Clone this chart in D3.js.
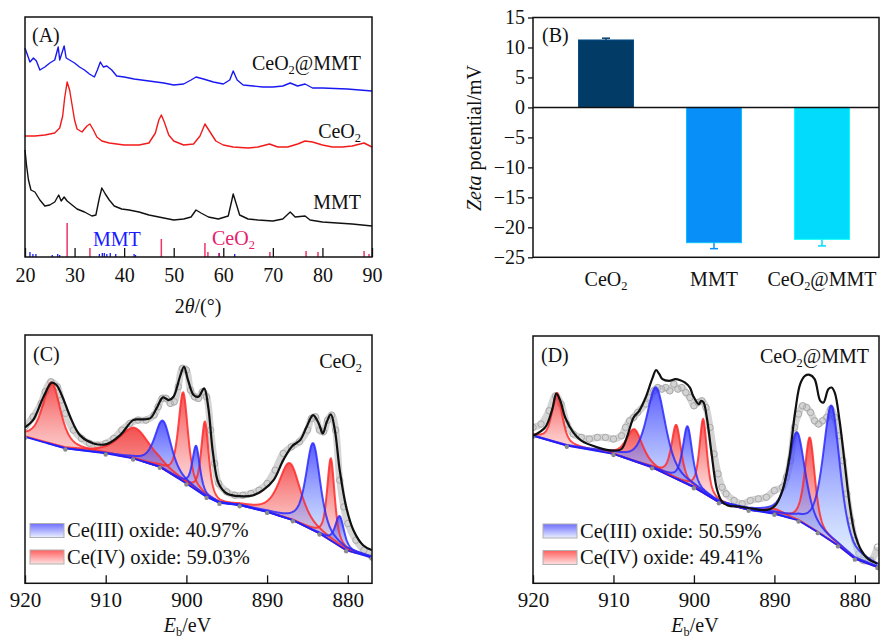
<!DOCTYPE html>
<html>
<head>
<meta charset="utf-8">
<script src="https://cdn.jsdelivr.net/npm/d3@7"></script>
<style>
  body { margin: 0; background: #fff; }
  svg, svg text { font-family: "Liberation Serif", "Times New Roman", serif; }
</style>
</head>
<body>
<svg id="fig" width="880" height="640"></svg>
<script>
// ---------------- data ----------------
// (A) XRD patterns, [2theta, intensity (a.u., stacked offsets included)]
const xrdComposite = [[20,209],[20.5,202],[21,195],[21.7,199],[22.3,196],[23,187],[24,190],[25,194],[26,197],[26.7,210],[27,197],[27.9,211],[28.3,199],[29,197],[30,194],[31,190],[32,187],[33,183],[34,180],[34.6,187],[35.2,195],[35.8,190],[36.5,191],[37.5,187],[38.5,181],[40,180],[42,178],[45,176],[48,174],[50,172],[52,173],[53.5,177],[54.5,180],[56,178],[58,175],[60,173],[61.3,177],[62,186],[62.8,177],[64,172],[66,171],[68,170],[70,170],[72,171],[73.5,174],[75,171],[76.5,173],[78,169],[80,169],[85,168],[90,166]];
const xrdCeo2 = [[20,121],[22,121],[24,122],[26,124],[27,129],[27.6,141],[28,159],[28.5,175],[29,167],[29.5,152],[30,137],[30.5,128],[31.5,125],[32.5,131],[33.1,133],[33.8,127],[34.5,120],[35.5,116],[37,114],[40,112],[43,112],[45,114],[46.3,124],[47,137],[47.5,142],[48.1,135],[49,122],[50,116],[52,112],[54,113],[55.3,121],[56.3,133],[57.2,126],[58.5,116],[60,112],[62,110],[65,109],[67,110],[69.3,113],[71,110],[73,110],[75,113],[76.5,116],[78,115],[80,112],[82,110],[84,110],[86,111],[88.4,114],[90,110]];
const xrdMmt = [[20,107],[20.3,92],[20.7,77],[21.2,67],[22,65],[23,57],[24,51],[25,52],[26,55],[26.8,62],[27.3,56],[27.9,60],[28.5,56],[29.5,52],[30.5,48],[32,45],[33.5,41],[34.3,42],[35,59],[35.5,69],[36.2,63],[37,57],[38,51],[39.5,48],[41,47],[43,45],[45,42],[48,39],[50,37],[52,38],[53.5,40],[54.5,47],[55.5,44],[57,40],[59,38],[61,41],[61.6,54],[62,63],[62.5,55],[63.3,42],[65,38],[67,37],[70,36],[72,38],[73.5,45],[74.5,40],[76.5,41],[77.5,37],[80,35],[83,34],[86,33],[90,31]];
// standard reference lines [2theta, relative height]
const refCeo2 = [[28.5,34],[33.1,9],[47.5,18],[56.3,14],[56.9,5],[59.1,4],[69.4,5],[76.7,6],[79.1,5],[88.4,6],[89.4,3]];
const refMmt = [[21.0,5],[21.6,3],[22.2,3],[25.5,2],[26.6,3],[27.0,2],[35.0,3],[35.6,4],[36.0,4],[36.5,3],[37.2,4],[38.3,3],[42.0,3],[42.3,2],[59.2,4],[62.3,3]];
const xrdTicks = [20, 30, 40, 50, 60, 70, 80, 90];

// (B) zeta potential
const zetaCats = ["CeO_2", "MMT", "CeO_2@MMT"];
const zetaVals = [11.25, -22.56, -22.0];
const zetaErr = [0.3, 1.0, 1.1];
const zetaTicks = [15, 10, 5, 0, -5, -10, -15, -20, -25];
const zetaColors = ["#033b67", "#0890f8", "#03dbfd"];

// (C)/(D) Ce 3d XPS, [binding energy eV, counts a.u.]
const xpsTicks = [920, 910, 900, 890, 880];
const bgC = [[920,146.3],[915,134.7],[910,129.7],[906.6,124.7],[903.3,116.3],[900,99.7],[897.5,86.3],[895.9,80.3],[893.4,78],[890,71.3],[886.8,63],[883.5,49.7],[880.2,33],[877,25.7]];
const envC = [[920,155.7],[919,163],[917.7,186.3],[916.7,200.3],[916.1,198],[915.2,183],[914.4,166.3],[913.2,148],[911.5,139.7],[909.9,139],[908.2,148],[906.6,163],[905.7,163.7],[904.5,164.7],[903.7,174.7],[902.9,185.7],[902.2,183],[901.6,186.3],[900.8,206.3],[900.3,216.3],[899.8,203],[899.1,188],[898.5,186.3],[897.8,194.7],[897.3,176.3],[896.7,129.7],[896,99.7],[895,89.7],[893.4,87],[891.7,88],[890.5,93],[889.2,103],[888,123],[886.9,137],[885.9,143],[885.1,156.3],[884.3,168],[883.6,159.7],[883.1,149.7],[882.6,161.3],[882.1,168.7],[881.6,153],[881,113],[880.2,76.3],[879.3,53],[878.1,38],[877,33]];
const rawC = [[920,156.3],[919,166.3],[918,179.7],[917.5,191.3],[916.8,201.3],[916,196.3],[915.5,183],[915,169.7],[914,153],[913,144.7],[912,139.7],[911,138],[910,139.7],[909,144.7],[908,153],[907,159.7],[906,163],[905,163],[904,168],[903.5,176.3],[903,184.7],[902.5,184.7],[902,179.7],[901.5,181.3],[901,196.3],[900.5,214.7],[900,213],[899.5,193],[899,186.3],[898.5,184.7],[898,191.3],[897.5,186.3],[897,153],[896.5,119.7],[896,99.7],[895,91.3],[894,88],[893,88],[892,89.7],[891,93],[890,99.7],[889,113],[888,129.7],[887,136.3],[886,141.3],[885,153],[884.5,164.7],[884,166.3],[883.5,153],[883,151.3],[882.5,163],[882,168],[881.5,153],[881,103],[880.5,76.3],[880,59.7],[879,43],[878,33],[877,26.3]];
// fitted components [centre eV, height above background, FWHM eV]
const ce3C = [[902.9,48,2.4],[898.8,44,1.1],[884.3,87,2.1],[881.0,30,1.3]];
const ce4C = [[916.7,62,2.6],[906.4,31,4.6],[900.4,89,1.4],[897.7,74,1.1],[887.2,56,3.2],[882.1,82,1.1]];

const bgD = [[920,148],[915.8,138],[910,129.7],[905.2,116.3],[900,96.3],[896.9,81.3],[893.2,73.7],[890,69.7],[887,63],[884.6,51.3],[882.1,38],[880,24.7],[877.2,16.3]];
const envD = [[920,148],[918.5,156.3],[917.6,174.7],[917.1,190.3],[916.6,183],[916,166.3],[915,151.3],[914,143],[912,136.3],[910,133],[909,134.7],[908.2,149.7],[907.5,166.3],[906.8,173],[906,186.3],[905.2,204.7],[904.7,213.7],[904.3,209.7],[903.9,204.7],[903.1,203],[902.3,204.7],[901.7,203.7],[901.1,201.3],[900.5,196.3],[900.1,188],[899.4,179.7],[899.1,183],[898.8,181.3],[898.4,166.3],[897.8,129.7],[897.2,96.3],[896.6,83],[895.8,78],[894.4,77],[892.8,75],[891.5,73.5],[890.7,74],[889.9,78],[889,93],[888.2,123],[887.4,173],[886.8,199.7],[886.2,208],[885.6,209],[885,204.7],[884.3,183],[883.9,181.3],[883.3,194.7],[882.9,196.3],[882.5,191.3],[881.9,163],[881.3,123],[880.6,76.3],[880,49.7],[879.2,33],[878.4,24.7],[877.2,19.7]];
const rawD = [[920,156.3],[919,159.7],[918,173],[917.2,188],[916.5,179.7],[915.8,159.7],[915,149.7],[914,146.3],[913,144.7],[912,146.3],[911,146.3],[910,144.7],[909,148],[908.5,156.3],[908,163],[907.5,166.3],[907,171.3],[906,179.7],[905.5,186.3],[905,193],[904.5,196.3],[904,194.7],[903.5,196.3],[903,193],[902.5,199.7],[902,194.7],[901.5,196.3],[901,191.3],[900.5,186.3],[900,178],[899.5,181.3],[899,183],[898.5,176.3],[898,156.3],[897.5,129.7],[897,109.7],[896.5,96.3],[896,89.7],[895,83],[894,79.7],[893,83],[892,84.7],[891,86.3],[890,93],[889,96.3],[888.5,106.3],[888,123],[887.5,156.3],[887,169.7],[886.5,178],[886,176.3],[885.5,171.3],[885,163],[884.5,159.7],[884,163],[883.5,166.3],[883,174.7],[882.5,166.3],[882,148],[881.5,123],[881,89.7],[880.5,63],[880,43],[879.5,29.7],[879,23],[878,23],[877.2,36.3]];
const ce3D = [[904.7,82,2.8],[900.8,58,1.4],[887.2,88,2.5],[882.9,136,2.5]];
const ce4D = [[917.0,50,1.5],[907.4,32,2.4],[902.2,54,1.4],[898.85,74,1.1],[889.9,5,3.0],[885.6,90,1.5]];

// ---------------- helpers ----------------
const svg = d3.select("#fig");
const defs = svg.append("defs");

// text with *italic* and _x subscript markup
function richText(parent, x, y, str, fs, anchor, color) {
  const t = parent.append("text")
    .attr("x", x).attr("y", y)
    .attr("font-size", fs)
    .attr("text-anchor", anchor || "start")
    .attr("fill", color || "#111");
  const tokens = str.split(/(\*[^*]+\*|_.)/).filter(s => s.length);
  let shifted = false;
  tokens.forEach(tok => {
    const s = t.append("tspan");
    if (tok[0] === "_") {
      s.text(tok.slice(1)).attr("font-size", fs * 0.62).attr("dy", fs * 0.22);
      shifted = true;
      return;
    }
    if (tok[0] === "*") s.text(tok.slice(1, -1)).attr("font-style", "italic");
    else s.text(tok);
    if (shifted) { s.attr("dy", -fs * 0.22); shifted = false; }
  });
  return t;
}

function vGrad(id, c0, o0, c1, o1) {
  const g = defs.append("linearGradient").attr("id", id)
    .attr("x1", 0).attr("y1", 0).attr("x2", 0).attr("y2", 1);
  g.append("stop").attr("offset", 0).attr("stop-color", c0).attr("stop-opacity", o0);
  g.append("stop").attr("offset", 1).attr("stop-color", c1).attr("stop-opacity", o1);
}
vGrad("fillBlue", "#2a2aff", 0.78, "#b4dcff", 0.35);
vGrad("fillRed", "#f01e1e", 0.78, "#ffbcbc", 0.35);
vGrad("legBlue", "#6e6eff", 1, "#eaf0ff", 1);
vGrad("legRed", "#ff5e5e", 1, "#ffe2e2", 1);

function styleAxis(ax, fs) {
  ax.attr("font-family", null).attr("font-size", null);
  ax.select(".domain").remove();
  ax.selectAll("line").attr("stroke", "#111").attr("stroke-width", 1.3);
  ax.selectAll("text").attr("font-size", fs).attr("fill", "#111");
}

// ---------------- (A) XRD ----------------
const A = { x0: 25, x1: 372, y0: 17, y1: 257 };
const gA = svg.append("g");
const xA = d3.scaleLinear().domain([20, 90]).range([A.x0, A.x1]);
const yA = d3.scaleLinear().domain([0, 240]).range([A.y1, A.y0]);
const lineA = d3.line().x(d => xA(d[0])).y(d => yA(d[1]));

gA.selectAll(".refMmt").data(refMmt).enter().append("line")
  .attr("x1", d => xA(d[0])).attr("x2", d => xA(d[0]))
  .attr("y1", yA(0)).attr("y2", d => yA(d[1]))
  .attr("stroke", "#1a1aff").attr("stroke-width", 1.3);
gA.selectAll(".refCeo2").data(refCeo2).enter().append("line")
  .attr("x1", d => xA(d[0])).attr("x2", d => xA(d[0]))
  .attr("y1", yA(0)).attr("y2", d => yA(d[1]))
  .attr("stroke", "#ee3366").attr("stroke-width", 1.5);

[[xrdMmt, "#111"], [xrdCeo2, "#f21a1a"], [xrdComposite, "#1818f2"]].forEach(s => {
  gA.append("path").datum(s[0]).attr("d", lineA)
    .attr("fill", "none").attr("stroke", s[1]).attr("stroke-width", 1.4)
    .attr("stroke-linejoin", "round");
});

const axA = gA.append("g").attr("transform", `translate(0,${A.y1})`)
  .call(d3.axisBottom(xA).tickValues(xrdTicks).tickSizeInner(-9).tickSizeOuter(0).tickPadding(11));
styleAxis(axA, 20);

gA.append("rect").attr("x", A.x0).attr("y", A.y0)
  .attr("width", A.x1 - A.x0).attr("height", A.y1 - A.y0)
  .attr("fill", "none").attr("stroke", "#111").attr("stroke-width", 1.5);

richText(gA, 32, 42, "(A)", 20);
richText(gA, 361, 70, "CeO_2@MMT", 20, "end");
richText(gA, 361, 138, "CeO_2", 20, "end");
richText(gA, 361, 209, "MMT", 20, "end");
richText(gA, 93, 246, "MMT", 20, "start", "#1a1aff");
richText(gA, 212, 245, "CeO_2", 20, "start", "#e4226c");
richText(gA, 198, 313, "2*θ*/(°)", 20, "middle");

// ---------------- (B) zeta potential ----------------
const B = { x0: 533, x1: 879, y0: 17.5, y1: 257.3 };
const gB = svg.append("g");
const yB = d3.scaleLinear().domain([-25, 15]).range([B.y1, B.y0]);
const xB = d3.scalePoint().domain(zetaCats).range([B.x0 + 19, B.x1 - 3]).padding(0.5);
const barW = 55;

// error bars first, bars cover the inner half
zetaCats.forEach((c, i) => {
  const v = zetaVals[i], e = zetaErr[i];
  const col = i === 0 ? "#0b3e6c" : zetaColors[i];
  gB.append("line").attr("x1", xB(c)).attr("x2", xB(c))
    .attr("y1", yB(v - e)).attr("y2", yB(v + e))
    .attr("stroke", col).attr("stroke-width", 1.5);
  const capV = v >= 0 ? v + e : v - e;
  gB.append("line").attr("x1", xB(c) - 4).attr("x2", xB(c) + 4)
    .attr("y1", yB(capV)).attr("y2", yB(capV))
    .attr("stroke", col).attr("stroke-width", 1.5);
});
gB.selectAll(".bar").data(zetaCats).enter().append("rect")
  .attr("x", c => xB(c) - barW / 2)
  .attr("y", (c, i) => yB(Math.max(0, zetaVals[i])))
  .attr("width", barW)
  .attr("height", (c, i) => Math.abs(yB(zetaVals[i]) - yB(0)))
  .attr("fill", (c, i) => zetaColors[i])
  .attr("stroke", (c, i) => d3.color(zetaColors[i]).brighter(0.8))
  .attr("stroke-width", 1);

gB.append("line").attr("x1", B.x0).attr("x2", B.x1)
  .attr("y1", yB(0)).attr("y2", yB(0)).attr("stroke", "#111").attr("stroke-width", 1.4);

const axB = gB.append("g").attr("transform", `translate(${B.x0},0)`)
  .call(d3.axisLeft(yB).tickValues(zetaTicks).tickSize(5).tickPadding(3));
styleAxis(axB, 20);

gB.append("rect").attr("x", B.x0).attr("y", B.y0)
  .attr("width", B.x1 - B.x0).attr("height", B.y1 - B.y0)
  .attr("fill", "none").attr("stroke", "#111").attr("stroke-width", 1.5);

zetaCats.forEach(c => richText(gB, xB(c), 286, c, 20, "middle"));
richText(gB, 542, 42, "(B)", 20);
richText(gB.append("g").attr("transform", "translate(481,138) rotate(-90)"), 0, 0, "*Zeta* potential/mV", 20, "middle");

// ---------------- (C)/(D) XPS ----------------
const ETA = 0.6; // Lorentzian fraction of the pseudo-Voigt components
function pv(e, p) {
  const d = (e - p[0]) / p[2];
  return p[1] * (ETA / (1 + 4 * d * d) + (1 - ETA) * Math.exp(-4 * Math.LN2 * d * d));
}

function drawXps(cfg) {
  const g = svg.append("g");
  const x = d3.scaleLinear().domain([920, 877]).range([cfg.x0, cfg.x1]);
  const y = d3.scaleLinear().domain([0, 248]).range([cfg.y1, cfg.y0]);
  const bgS = d3.scaleLinear().domain(cfg.bg.map(d => d[0])).range(cfg.bg.map(d => d[1]));

  const clipId = "clip" + cfg.tag;
  defs.append("clipPath").attr("id", clipId).append("rect")
    .attr("x", cfg.x0).attr("y", cfg.y0)
    .attr("width", cfg.x1 - cfg.x0).attr("height", cfg.y1 - cfg.y0);
  const plot = g.append("g").attr("clip-path", `url(#${clipId})`);

  // raw data: gray open circles
  plot.append("path").datum(cfg.raw)
    .attr("d", d3.line().x(d => x(d[0])).y(d => y(d[1])).curve(d3.curveCatmullRom))
    .attr("fill", "none").attr("stroke", "#d4d4d4").attr("stroke-width", 7);
  plot.selectAll(".raw").data(cfg.raw).enter().append("circle")
    .attr("cx", d => x(d[0])).attr("cy", d => y(d[1])).attr("r", 3.2)
    .attr("fill", "none").attr("stroke", "#a9a9a9").attr("stroke-width", 1);

  // fitted components
  const comps = cfg.ce4.map(p => ({ p, type: "red" })).concat(cfg.ce3.map(p => ({ p, type: "blue" })));
  comps.forEach(c => {
    const lo = Math.max(877, c.p[0] - 6 * c.p[2]);
    const hi = Math.min(920, c.p[0] + 6 * c.p[2]);
    const es = d3.range(lo, hi, 0.05).concat([hi]);
    c.es = es;
    plot.append("path").datum(es)
      .attr("d", d3.area().x(e => x(e)).y0(e => y(bgS(e))).y1(e => y(bgS(e) + pv(e, c.p))))
      .attr("fill", c.type === "red" ? "url(#fillRed)" : "url(#fillBlue)");
  });
  comps.forEach(c => {
    plot.append("path").datum(c.es)
      .attr("d", d3.line().x(e => x(e)).y(e => y(bgS(e) + pv(e, c.p))))
      .attr("fill", "none")
      .attr("stroke", c.type === "red" ? "#ff2b2b" : "#2b2bff")
      .attr("stroke-opacity", 0.85).attr("stroke-width", 2);
  });

  // background line with dots
  plot.append("path").datum(cfg.bg)
    .attr("d", d3.line().x(d => x(d[0])).y(d => y(d[1])))
    .attr("fill", "none").attr("stroke", "#2020ff").attr("stroke-width", 1.8);
  plot.selectAll(".bgdot").data(cfg.bg).enter().append("circle")
    .attr("cx", d => x(d[0])).attr("cy", d => y(d[1]) + 1).attr("r", 2.2)
    .attr("fill", "#8a8a8a");

  // envelope
  plot.append("path").datum(cfg.env)
    .attr("d", d3.line().x(d => x(d[0])).y(d => y(d[1])).curve(d3.curveCatmullRom))
    .attr("fill", "none").attr("stroke", "#111").attr("stroke-width", 2.2);

  // axis + frame
  const ax = g.append("g").attr("transform", `translate(0,${cfg.y1})`)
    .call(d3.axisBottom(x).tickValues(xpsTicks).tickSizeInner(-8).tickSizeOuter(0).tickPadding(9));
  styleAxis(ax, 21);

  g.append("rect").attr("x", cfg.x0).attr("y", cfg.y0)
    .attr("width", cfg.x1 - cfg.x0).attr("height", cfg.y1 - cfg.y0)
    .attr("fill", "none").attr("stroke", "#111").attr("stroke-width", 1.5);

  // legend
  cfg.legend.forEach((l, i) => {
    const ly = cfg.legY + i * 26.5;
    g.append("rect").attr("x", cfg.legX).attr("y", ly).attr("width", 34).attr("height", 14)
      .attr("fill", i === 0 ? "url(#legBlue)" : "url(#legRed)")
      .attr("stroke", "#b0b0b0").attr("stroke-width", 1);
    richText(g, cfg.legX + 37, ly + 13.5, l, 20.5);
  });

  richText(g, cfg.x0 + 8, cfg.y0 + 26, cfg.tag === "C" ? "(C)" : "(D)", 20);
  richText(g, cfg.x1 - 10, cfg.nameY, cfg.name, 20, "end");
  richText(g, (cfg.x0 + cfg.x1) / 2 - 11, 632, "*E*_b/eV", 20, "middle");
}

drawXps({
  tag: "C", x0: 25, x1: 372, y0: 335, y1: 583.3,
  bg: bgC, env: envC, raw: rawC, ce3: ce3C, ce4: ce4C,
  name: "CeO_2", nameY: 368,
  legX: 30, legY: 523.5,
  legend: ["Ce(III) oxide: 40.97%", "Ce(IV) oxide: 59.03%"]
});
drawXps({
  tag: "D", x0: 533, x1: 879, y0: 336, y1: 583.3,
  bg: bgD, env: envD, raw: rawD, ce3: ce3D, ce4: ce4D,
  name: "CeO_2@MMT", nameY: 363,
  legX: 543, legY: 524,
  legend: ["Ce(III) oxide: 50.59%", "Ce(IV) oxide: 49.41%"]
});
</script>
</body>
</html>
